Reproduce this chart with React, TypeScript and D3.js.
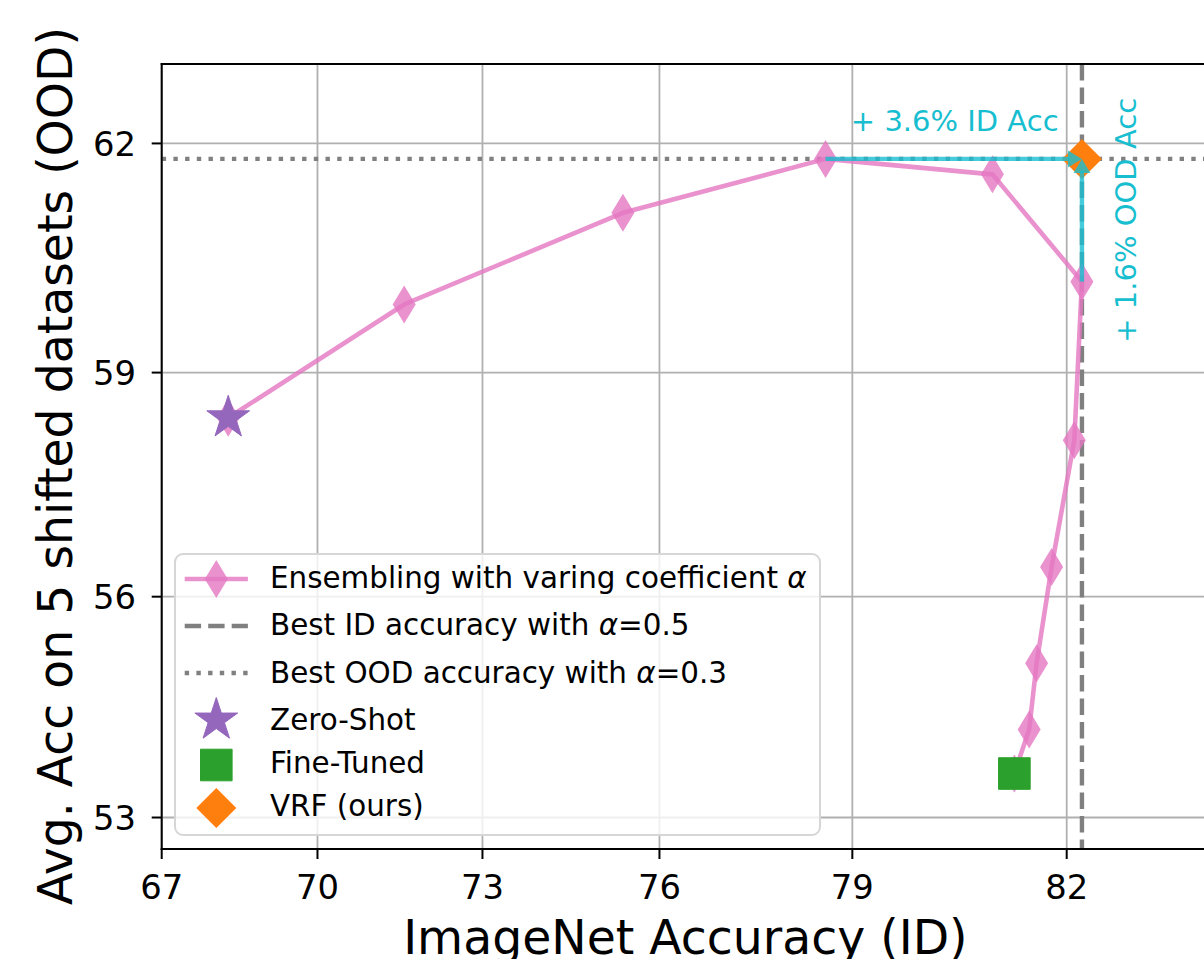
import React from "react";
import * as d3 from "d3";

// ---------- data ----------
const ensembleID = [68.3, 71.6, 75.4, 78.6, 81.0, 82.2, 82.1, 81.8, 81.6, 81.5, 81.3];
const ensembleOOD = [58.4, 59.9, 61.1, 61.8, 61.6, 60.2, 58.1, 56.4, 55.1, 54.2, 53.6];
const zeroShotPoint = [68.3, 58.4];
const fineTunedPoint = [81.3, 53.6];
const vrfPoint = [82.2, 61.8];
const bestIdAcc = 82.2; // alpha = 0.5
const bestOodAcc = 61.8; // alpha = 0.3
const bestOodID = 78.6;
const bestIdOOD = 60.2;
const xTicks = [67, 70, 73, 76, 79, 82];
const yTicks = [53, 56, 59, 62];
const xDomain = [67, 83.8];
const yDomain = [52.57, 63.02];

const legendLabels = [
  ["Ensembling with varing coefficient ", "α", ""],
  ["Best ID accuracy with ", "α", "=0.5"],
  ["Best OOD accuracy with ", "α", "=0.3"],
  ["Zero-Shot", "", ""],
  ["Fine-Tuned", "", ""],
  ["VRF (ours)", "", ""],
];

// ---------- styling ----------
const W = 1204;
const H = 959;
const left = 161.7;
const right = 1209;
const top = 64;
const bottom = 849;
const FONT = "DejaVu Sans";
const PINK = "#e377c2";
const PURPLE = "#9467bd";
const GREEN = "#2ca02c";
const ORANGE = "#ff7f0e";
const CYAN = "#17becf";
const GRAY = "#808080";

// logit scale (matplotlib "logit" on percentages)
const logit = (v: number) => Math.log(v / (100 - v));
const xBase = d3.scaleLinear().domain(xDomain.map(logit)).range([left, right]);
const yBase = d3.scaleLinear().domain(yDomain.map(logit)).range([bottom, top]);
const x = (v: number) => xBase(logit(v));
const y = (v: number) => yBase(logit(v));

const thinDiamond = (cx: number, cy: number, w = 11.5, h = 19) =>
  `M${cx},${cy - h}L${cx + w},${cy}L${cx},${cy + h}L${cx - w},${cy}Z`;
const diamond = (cx: number, cy: number, r = 20) =>
  `M${cx},${cy - r}L${cx + r},${cy}L${cx},${cy + r}L${cx - r},${cy}Z`;
const star = (cx: number, cy: number, R = 22.5) => {
  const r = R * 0.381966;
  const pts: string[] = [];
  for (let i = 0; i < 10; i++) {
    const a = -Math.PI / 2 + (i * Math.PI) / 5;
    const rr = i % 2 === 0 ? R : r;
    pts.push(`${cx + rr * Math.cos(a)},${cy + rr * Math.sin(a)}`);
  }
  return "M" + pts.join("L") + "Z";
};
const square = (cx: number, cy: number, s = 15.8) =>
  `M${cx - s},${cy - s}H${cx + s}V${cy + s}H${cx - s}Z`;

export default function App() {
  const pts = ensembleID.map((v, i) => [x(v), y(ensembleOOD[i])] as [number, number]);
  const line = d3.line()(pts) || "";

  const hx1 = x(bestOodID);
  const tx = x(vrfPoint[0]);
  const ty = y(vrfPoint[1]);
  const vy1 = y(bestIdOOD);

  const legX = 175, legY = 554, legW = 645, legH = 281;
  const hx0 = 184.7, hxE = 247.9, hc = (hx0 + hxE) / 2;
  const rowC = [579, 626, 673, 720, 765, 808];
  const rowB = [588, 635, 683, 730, 773, 816];

  return (
    <svg width={W} height={H} style={{ position: "absolute", left: 0, top: 0, display: "block", background: "#fff" }}
      fontFamily={FONT}>
      <defs>
        <clipPath id="plotclip">
          <rect x={left} y={top} width={right - left} height={bottom - top} />
        </clipPath>
      </defs>
      <rect x={0} y={0} width={W} height={H} fill="#fff" />
      {/* grid */}
      <g stroke="#b0b0b0" strokeWidth={1.8}>
        {xTicks.map((t) => (
          <line key={"gx" + t} x1={x(t)} x2={x(t)} y1={top} y2={bottom} />
        ))}
        {yTicks.map((t) => (
          <line key={"gy" + t} x1={left} x2={right} y1={y(t)} y2={y(t)} />
        ))}
      </g>
      <g clipPath="url(#plotclip)">
        {/* reference lines */}
        <line x1={x(bestIdAcc)} x2={x(bestIdAcc)} y1={top} y2={bottom} stroke={GRAY} strokeWidth={4.4}
          strokeDasharray="16.4 7.1" />
        <line x1={left} x2={right} y1={y(bestOodAcc)} y2={y(bestOodAcc)} stroke={GRAY} strokeWidth={4.4}
          strokeDasharray="4.4 7.3" />
        {/* ensemble curve */}
        <path d={line} fill="none" stroke={PINK} strokeOpacity={0.8} strokeWidth={4.6} strokeLinejoin="round" />
        {pts.map((p, i) => (
          <path key={"d" + i} d={thinDiamond(p[0], p[1])} fill={PINK} fillOpacity={0.8} />
        ))}
        {/* single points */}
        <path d={star(x(zeroShotPoint[0]), y(zeroShotPoint[1]))} fill={PURPLE} stroke={PURPLE} strokeWidth={1} />
        <path d={square(x(fineTunedPoint[0]), y(fineTunedPoint[1]))} fill={GREEN} stroke={GREEN} strokeWidth={1}
          strokeLinejoin="round" />
        <path d={diamond(tx, ty)} fill={ORANGE} />
        {/* arrows */}
        <g stroke={CYAN} strokeOpacity={0.8} strokeWidth={4.4} fill="none">
          <line x1={hx1} x2={tx - 12} y1={ty} y2={ty} />
          <line x1={tx} x2={tx} y1={vy1} y2={ty + 12} />
        </g>
        <g fill={CYAN} fillOpacity={0.8}>
          <path d={`M${tx},${ty}L${tx - 14},${ty - 8.5}L${tx - 14},${ty + 8.5}Z`} />
          <path d={`M${tx},${ty}L${tx - 8.5},${ty + 14}L${tx + 8.5},${ty + 14}Z`} />
        </g>
      </g>
      {/* annotations */}
      <text x={(hx1 + tx) / 2 + 1} y={ty - 27.5} fill={CYAN} fontSize={29} textAnchor="middle">
        + 3.6% ID Acc
      </text>
      <text transform={`translate(${tx + 54},${(ty + vy1) / 2}) rotate(-90)`} fill={CYAN} fontSize={29}
        textAnchor="middle">
        + 1.6% OOD Acc
      </text>
      {/* spines */}
      <g stroke="#000" strokeWidth={2} fill="none">
        <line x1={left} x2={left} y1={top - 1} y2={bottom + 1} />
        <line x1={left - 1} x2={right} y1={bottom} y2={bottom} />
        <line x1={left - 1} x2={right} y1={top} y2={top} />
      </g>
      {/* ticks */}
      <g stroke="#000" strokeWidth={2}>
        {xTicks.map((t) => (
          <line key={"tx" + t} x1={x(t)} x2={x(t)} y1={bottom} y2={bottom + 10} />
        ))}
        {yTicks.map((t) => (
          <line key={"ty" + t} x1={left - 10} x2={left} y1={y(t)} y2={y(t)} />
        ))}
      </g>
      <g fontSize={33.8} fill="#000">
        {xTicks.map((t) => (
          <text key={"lx" + t} x={x(t)} y={899} textAnchor="middle">
            {t}
          </text>
        ))}
        {yTicks.map((t) => (
          <text key={"ly" + t} x={136} y={y(t) + 12.2} textAnchor="end">
            {t}
          </text>
        ))}
      </g>
      {/* axis labels */}
      <text x={(left + right) / 2} y={954} fontSize={47.3} textAnchor="middle" fill="#000">
        ImageNet Accuracy (ID)
      </text>
      <text transform={`translate(72,466) rotate(-90)`} fontSize={47.3} textAnchor="middle"
        fill="#000">
        Avg. Acc on 5 shifted datasets (OOD)
      </text>
      {/* legend */}
      <rect x={legX} y={legY} width={legW} height={legH} rx={8} fill="#fff" fillOpacity={0.8} stroke="#d6d6d6"
        strokeWidth={2} />
      <line x1={hx0} x2={hxE} y1={rowC[0]} y2={rowC[0]} stroke={PINK} strokeOpacity={0.8} strokeWidth={4.6} />
      <path d={thinDiamond(hc, rowC[0])} fill={PINK} fillOpacity={0.8} />
      <line x1={hx0} x2={hxE} y1={rowC[1]} y2={rowC[1]} stroke={GRAY} strokeWidth={4.4} strokeDasharray="16.4 7.1" />
      <line x1={hx0} x2={hxE} y1={rowC[2]} y2={rowC[2]} stroke={GRAY} strokeWidth={4.4} strokeDasharray="4.4 7.3" />
      <path d={star(hc, rowC[3])} fill={PURPLE} stroke={PURPLE} strokeWidth={1} />
      <path d={square(hc, rowC[4])} fill={GREEN} stroke={GREEN} strokeWidth={1} />
      <path d={diamond(hc, rowC[5])} fill={ORANGE} />
      <g fontSize={29.4} fill="#000">
        {legendLabels.map((l, i) => (
          <text key={"lg" + i} x={270} y={rowB[i]}>
            {l[0]}
            {l[1] ? <tspan fontStyle="italic">{l[1]}</tspan> : null}
            {l[2]}
          </text>
        ))}
      </g>
    </svg>
  );
}
